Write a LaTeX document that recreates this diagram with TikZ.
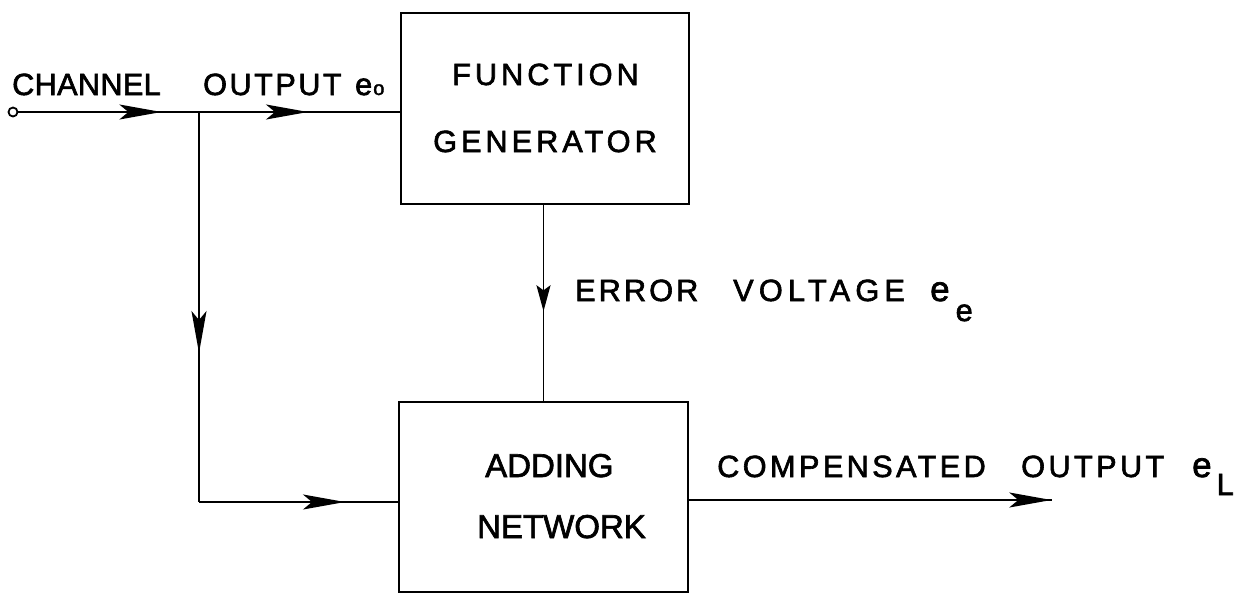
\documentclass[tikz,border=0pt]{standalone}
\usepackage{fontspec}
\setmainfont[FakeBold=2]{Liberation Sans}
\usetikzlibrary{arrows.meta,decorations.markings}
\newcommand{\trk}[2]{{\addfontfeatures{LetterSpace=#1}#2}}
\newcommand{\bige}{{\fontsize{35}{40}\selectfont e}}
\begin{document}
\begin{tikzpicture}[x=1pt,y=-1pt,
  box/.style={draw,line width=2.6pt,inner sep=0pt},
  wire/.style={line width=1.8pt},
  lbl/.style={inner sep=0pt,anchor=base west,font=\fontsize{30.7}{36}\selectfont},
  bigl/.style={lbl,font=\fontsize{33}{38}\selectfont},
  harrow/.style={postaction={decorate,decoration={markings,mark=at position #1 with {\arrow{Stealth[length=42pt,width=15pt,inset=9pt]}}}}},
  sarrow/.style={postaction={decorate,decoration={markings,mark=at position #1 with {\arrow{Stealth[length=26pt,width=14pt,inset=5pt]}}}}},
]
\useasboundingbox (0,0) rectangle (1237,595);

% blocks
\node[box,minimum width=288pt,minimum height=191pt] (fg) at (545,108.5) {};
\node[box,minimum width=289pt,minimum height=190pt] (an) at (543.5,497) {};
\node[circle,draw,line width=1.8pt,minimum size=9pt,inner sep=0pt] (in) at (13,112) {};

\coordinate (j) at (199,112);
\coordinate (c) at (199,502);
\coordinate (o) at (1052,500);

% connectors
\draw[wire,harrow=143pt] (in) -- (j);
\draw[wire,harrow=109pt] (j) -- (fg.west |- j);
\draw[wire,harrow=241pt] (j) -- (c);
\draw[wire,harrow=146pt] (c) -- (an.west |- c);
\draw[wire,sarrow=106pt] (fg.south -| an.north) -- (an.north);
\draw[wire,harrow=362pt] (an.east |- o) -- (o);

% labels
\node[lbl] (chan) at (12,95) {\trk{1}{\makebox[191pt][l]{CHANNEL}}\trk{8}{\makebox[152pt][l]{OUTPUT}}e\hspace{1pt}{\fontsize{20}{20}\selectfont o}};
\node[lbl] (fun) at (452,85) {\trk{13}{FUNCTION}};
\node[lbl] (gen) at (433,152) {\trk{13}{GENERATOR}};
\node[lbl] (err) at (575,301) {\trk{10}{\makebox[158pt][l]{ERROR}}\trk{17}{\makebox[197pt][l]{VOLTAGE}}\bige\hspace{6pt}\raisebox{-20pt}{e}};
\node[bigl] (add) at (485,477) {ADDING};
\node[bigl] (net) at (477,538) {NETWORK};
\node[lbl] (comp) at (717,477) {\trk{11}{\makebox[304pt][l]{COMPENSATED}}\trk{11}{\makebox[171pt][l]{OUTPUT}}\bige\hspace{5pt}\raisebox{-18pt}{L}};
\end{tikzpicture}
\end{document}
